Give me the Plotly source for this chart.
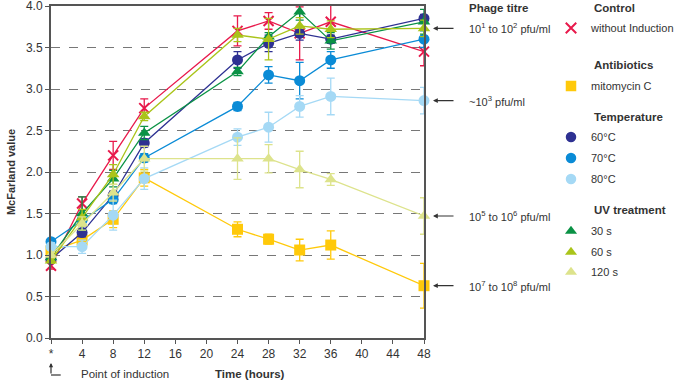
import plotly.graph_objects as go

# ---------------- data ----------------
hours = [0, 4, 8, 12, 24, 28, 32, 36, 48]
x_tick_vals = [0, 4, 8, 12, 16, 20, 24, 28, 32, 36, 40, 44, 48]
x_tick_text = ["*", "4", "8", "12", "16", "20", "24", "28", "32", "36", "40", "44", "48"]
y_tick_vals = [0.0, 0.5, 1.0, 1.5, 2.0, 2.5, 3.0, 3.5, 4.0]

control = [0.87, 1.62, 2.20, 2.77, 3.70, 3.82, 3.67, 3.81, 3.45]
control_err = [0.04, 0.08, 0.17, 0.11, 0.18, 0.10, 0.32, 0.20, 0.17]

mitomycin = [1.05, 1.18, 1.43, 1.93, 1.31, 1.19, 1.06, 1.12, 0.63]
mitomycin_err = [0.04, 0.05, 0.10, 0.10, 0.09, 0.06, 0.13, 0.17, 0.27]

t60 = [0.95, 1.27, 1.72, 2.35, 3.35, 3.55, 3.67, 3.60, 3.85]
t60_err = [0.03, 0.05, 0.05, 0.05, 0.10, 0.10, 0.08, 0.05, 0.05]
t70 = [1.16, 1.42, 1.67, 2.17, 2.79, 3.17, 3.10, 3.35, 3.60]
t70_err = [0.03, 0.05, 0.05, 0.05, 0.05, 0.10, 0.22, 0.10, 0.10]
t80 = [1.10, 1.10, 1.48, 1.92, 2.42, 2.54, 2.79, 2.91, 2.86]
t80_err = [0.05, 0.08, 0.18, 0.13, 0.10, 0.18, 0.13, 0.22, 0.16]

uv30 = [0.97, 1.50, 1.92, 2.47, 3.21, 3.63, 3.93, 3.58, 3.81]
uv30_err = [0.03, 0.20, 0.10, 0.08, 0.05, 0.05, 0.10, 0.10, 0.15]
uv60 = [0.93, 1.45, 1.97, 2.67, 3.65, 3.60, 3.76, 3.72, 3.73]
uv60_err = [0.03, 0.10, 0.12, 0.05, 0.08, 0.25, 0.10, 0.10, 0.10]
uv120 = [1.00, 1.38, 1.75, 2.16, 2.16, 2.16, 2.03, 1.91, 1.47]
uv120_err = [0.03, 0.08, 0.10, 0.15, 0.25, 0.17, 0.22, 0.07, 0.22]

titre_labels = [
    "10<sup>1</sup> to 10<sup>2</sup> pfu/ml",
    "~10<sup>3</sup> pfu/ml",
    "10<sup>5</sup> to 10<sup>6</sup> pfu/ml",
    "10<sup>7</sup> to 10<sup>8</sup> pfu/ml",
]
titre_values = [uv60[-1], t80[-1], uv120[-1], mitomycin[-1]]

group_titles = ["Control", "Antibiotics", "Temperature", "UV treatment"]

FONT = "Liberation Sans, Arial, sans-serif"
TXT = "#333333"
AX = "#555555"
W, H = 680, 383
ML, MR, MT, MB = 51, 256, 6, 45
PW, PH = W - ML - MR, H - MT - MB

series = [
    # name, y, err, color, symbol
    ("without Induction", control, control_err, "#e8194b", "x-thin"),
    ("mitomycin C", mitomycin, mitomycin_err, "#ffc90a", "square"),
    ("60°C", t60, t60_err, "#2e3192", "circle"),
    ("70°C", t70, t70_err, "#0a8bd6", "circle"),
    ("80°C", t80, t80_err, "#a5d9f5", "circle"),
    ("30 s", uv30, uv30_err, "#0a9245", "triangle-up"),
    ("60 s", uv60, uv60_err, "#aac41a", "triangle-up"),
    ("120 s", uv120, uv120_err, "#dde38c", "triangle-up"),
]

# legend layout (pixel centres of each legend row / group title)
item_rows = [28, 86, 137, 158, 179, 231, 252, 272]
title_rows = [8, 65, 117, 210]
LEG_LEFT = 551
TITLE_X = 592

fig = go.Figure()

for name, ys, err, col, sym in series:
    is_x = sym == "x-thin"
    fig.add_trace(go.Scatter(
        x=hours, y=ys, mode="lines+markers", name=name,
        line=dict(color=col, width=1.3),
        marker=dict(symbol=sym, size=11 if not is_x else 10, color=col,
                    line=dict(color=col, width=2 if is_x else 0)),
        error_y=dict(type="data", array=err, color=col, thickness=1.3, width=4),
        cliponaxis=False, showlegend=False,
    ))

legend_layouts = {}
for i, (name, ys, err, col, sym) in enumerate(series):
    is_x = sym == "x-thin"
    lname = "legend" if i == 0 else "legend%d" % (i + 1)
    fig.add_trace(go.Scatter(
        x=[None], y=[None], mode="markers", name=name, legend=lname,
        marker=dict(symbol=sym, size=10.5, color=col,
                    line=dict(color=col, width=2 if is_x else 0)),
        showlegend=True,
    ))
    legend_layouts[lname] = dict(
        xref="container", yref="container",
        x=LEG_LEFT / W, y=1 - item_rows[i] / H, xanchor="left", yanchor="middle",
        font=dict(size=11, color=TXT, family=FONT),
        bgcolor="rgba(0,0,0,0)", borderwidth=0, itemwidth=30,
    )

for t, r in zip(group_titles, title_rows):
    fig.add_annotation(x=(TITLE_X - ML) / PW, y=(H - MB - r) / PH, xref="paper", yref="paper",
                       text="<b>" + t + "</b>", showarrow=False, xanchor="left", yanchor="middle",
                       font=dict(size=11.5, color=TXT, family=FONT))

# phage titre arrows + labels
TITRE_X = (467 - ML) / PW
for lab, val in zip(titre_labels, titre_values):
    fig.add_annotation(x=48, y=val, xref="x", yref="y", text="", showarrow=True,
                       arrowhead=2, arrowsize=0.8, arrowwidth=1.2, arrowcolor="#333333",
                       ax=31, ay=0, standoff=9)
    fig.add_annotation(x=TITRE_X, y=val, xref="paper", yref="y", text=lab, showarrow=False,
                       xanchor="left", yanchor="middle",
                       font=dict(size=11, color=TXT, family=FONT))

fig.add_annotation(x=TITRE_X, y=(H - MB - 8) / PH, xref="paper", yref="paper",
                   text="<b>Phage titre</b>", showarrow=False, xanchor="left", yanchor="middle",
                   font=dict(size=11.5, color=TXT, family=FONT))

# x-axis title and point-of-induction note
fig.add_annotation(x=(250 - ML) / PW, y=-(374 - (H - MB)) / PH, xref="paper", yref="paper",
                   text="<b>Time (hours)</b>", showarrow=False, xanchor="center", yanchor="middle",
                   font=dict(size=11.5, color=TXT, family=FONT))
fig.add_annotation(x=(79 - ML) / PW, y=-(374 - (H - MB)) / PH, xref="paper", yref="paper",
                   text="Point of induction", showarrow=False, xanchor="left", yanchor="middle",
                   font=dict(size=11.5, color=TXT, family=FONT))
fig.add_annotation(x=0, y=-(363 - (H - MB)) / PH, xref="x", yref="paper", text="",
                   showarrow=True, arrowhead=2, arrowsize=0.7, arrowwidth=1.2,
                   arrowcolor="#333333", ax=0, ay=12, standoff=0)
fig.add_shape(type="line", xref="x", yref="paper", x0=0, x1=1.25,
              y0=-(375 - (H - MB)) / PH, y1=-(375 - (H - MB)) / PH,
              line=dict(color="#333333", width=1.2))

fig.update_layout(
    width=W, height=H,
    margin=dict(l=ML, r=MR, t=MT, b=MB, autoexpand=False),
    paper_bgcolor="white", plot_bgcolor="white",
    font=dict(family=FONT, size=12, color=TXT),
    xaxis=dict(range=[0, 48], tickvals=x_tick_vals, ticktext=x_tick_text,
               showgrid=False, zeroline=False, showline=True, linecolor=AX, linewidth=2,
               mirror=True, ticks="outside", ticklen=4, tickcolor=AX, tickwidth=1,
               ticklabeloverflow="allow",
               tickfont=dict(size=12, color=TXT, family=FONT)),
    yaxis=dict(range=[0, 4], tickvals=y_tick_vals, tickformat=".1f",
               showgrid=True, gridcolor="#777777", griddash="dash", gridwidth=1.2,
               zeroline=False, showline=True, linecolor=AX, linewidth=2,
               mirror=True, ticks="outside", ticklen=4, tickcolor=AX, tickwidth=1,
               ticklabeloverflow="allow",
               tickfont=dict(size=12, color=TXT, family=FONT),
               title=dict(text="<b>McFarland value</b>", standoff=8,
                          font=dict(size=11, color=TXT, family=FONT))),
    **legend_layouts,
)

fig.write_html("out.html", config={"displayModeBar": False},
               post_script="document.body.style.margin='0px';")
